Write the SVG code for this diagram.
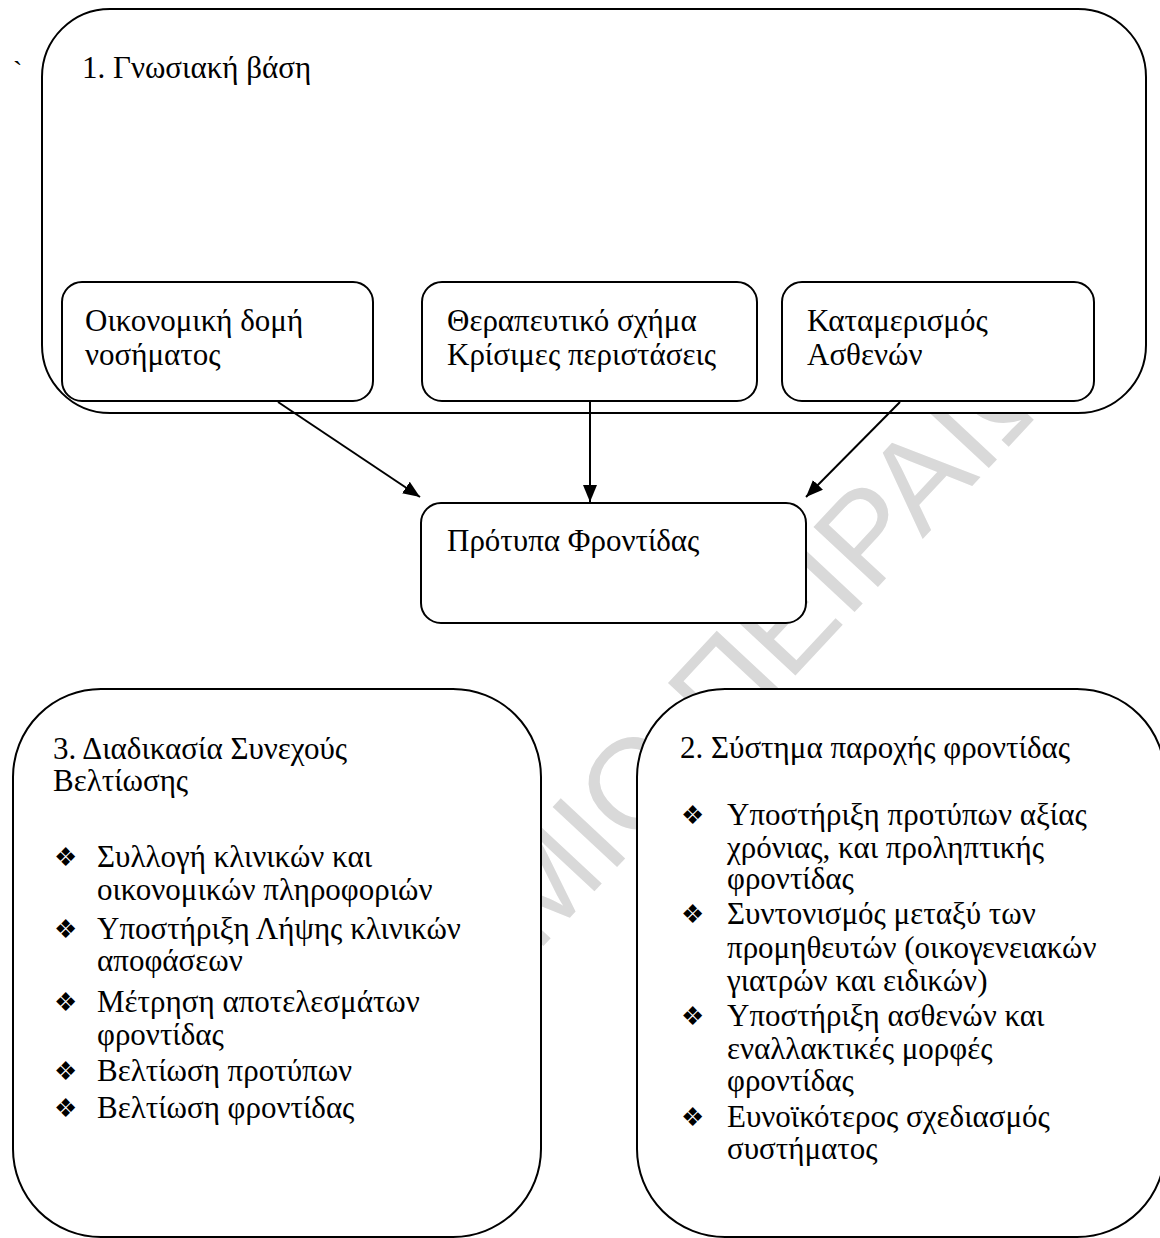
<svg xmlns="http://www.w3.org/2000/svg" width="1160" height="1238" viewBox="0 0 1160 1238">
<style>
.box{fill:#fff;stroke:#000;stroke-width:2}
.t{font-family:"Liberation Serif","Times New Roman",serif;font-size:31px;fill:#000}
.g{font-family:"Liberation Serif","Times New Roman",serif;font-size:28px;fill:#000}
.b{font-family:"DejaVu Sans",sans-serif;font-size:26px;fill:#000}
.wm{font-family:"Liberation Sans",Arial,sans-serif;font-size:128px;fill:#d9d9d9}
.edge{stroke:#000;stroke-width:2;fill:none;marker-end:url(#ah)}
</style>
<defs>
<marker id="ah" markerUnits="userSpaceOnUse" markerWidth="18" markerHeight="14" refX="17" refY="7" orient="auto">
<path d="M0,0 L17,7 L0,14 Z" fill="#000"/>
</marker>
</defs>
<rect width="1160" height="1238" fill="#fff"/>
<text class="wm" transform="translate(36,1490) rotate(-47)">ΠΑΝΕΠΙΣΤΗΜΙΟ ΠΕΙΡΑΙΩΣ</text>
<text class="g" x="13" y="80">`</text>
<g id="n1">
<rect class="box" x="42" y="9" width="1104" height="404" rx="68" ry="68"/>
<text class="t" x="82" y="78">1. Γνωσιακή βάση</text>
</g>
<g id="nA">
<rect class="box" x="62" y="282" width="311" height="119" rx="20" ry="20"/>
<text class="t" x="85" y="331">Οικονομική δομή</text>
<text class="t" x="85" y="365">νοσήματος</text>
</g>
<g id="nB">
<rect class="box" x="422" y="282" width="335" height="119" rx="20" ry="20"/>
<text class="t" x="447" y="331">Θεραπευτικό σχήμα</text>
<text class="t" x="447" y="365">Κρίσιμες περιστάσεις</text>
</g>
<g id="nC">
<rect class="box" x="782" y="282" width="312" height="119" rx="20" ry="20"/>
<text class="t" x="807" y="331">Καταμερισμός</text>
<text class="t" x="807" y="365">Ασθενών</text>
</g>
<g id="nP">
<rect class="box" x="421" y="503" width="385" height="120" rx="20" ry="20"/>
<text class="t" x="447" y="551">Πρότυπα Φροντίδας</text>
</g>
<g id="n3">
<rect class="box" x="13" y="689" width="528" height="548" rx="88" ry="88"/>
<text class="t" x="53" y="759">3. Διαδικασία Συνεχούς</text>
<text class="t" x="53" y="791">Βελτίωσης</text>
<text class="b" x="54" y="866">❖</text><text class="t" x="97" y="867">Συλλογή κλινικών και</text>
<text class="t" x="97" y="900">οικονομικών πληροφοριών</text>
<text class="b" x="54" y="938">❖</text><text class="t" x="97" y="939">Υποστήριξη Λήψης κλινικών</text>
<text class="t" x="97" y="971">αποφάσεων</text>
<text class="b" x="54" y="1011">❖</text><text class="t" x="97" y="1012">Μέτρηση αποτελεσμάτων</text>
<text class="t" x="97" y="1045">φροντίδας</text>
<text class="b" x="54" y="1080">❖</text><text class="t" x="97" y="1081">Βελτίωση προτύπων</text>
<text class="b" x="54" y="1117">❖</text><text class="t" x="97" y="1118">Βελτίωση φροντίδας</text>
</g>
<g id="n2">
<rect class="box" x="637" y="689" width="528" height="548" rx="88" ry="88"/>
<text class="t" x="680" y="758">2. Σύστημα παροχής φροντίδας</text>
<text class="b" x="681" y="824">❖</text><text class="t" x="727" y="825">Υποστήριξη προτύπων αξίας</text>
<text class="t" x="727" y="858">χρόνιας, και προληπτικής</text>
<text class="t" x="727" y="889">φροντίδας</text>
<text class="b" x="681" y="923">❖</text><text class="t" x="727" y="924">Συντονισμός μεταξύ των</text>
<text class="t" x="727" y="958">προμηθευτών (οικογενειακών</text>
<text class="t" x="727" y="991">γιατρών και ειδικών)</text>
<text class="b" x="681" y="1025">❖</text><text class="t" x="727" y="1026">Υποστήριξη ασθενών και</text>
<text class="t" x="727" y="1059">εναλλακτικές μορφές</text>
<text class="t" x="727" y="1091">φροντίδας</text>
<text class="b" x="681" y="1126">❖</text><text class="t" x="727" y="1127">Ευνοϊκότερος σχεδιασμός</text>
<text class="t" x="727" y="1159">συστήματος</text>
</g>
<g id="connectors">
<line class="edge" x1="278" y1="402" x2="420" y2="497"/>
<line class="edge" x1="590" y1="401" x2="590" y2="502"/>
<line class="edge" x1="900" y1="402" x2="806" y2="497"/>
</g>
</svg>
